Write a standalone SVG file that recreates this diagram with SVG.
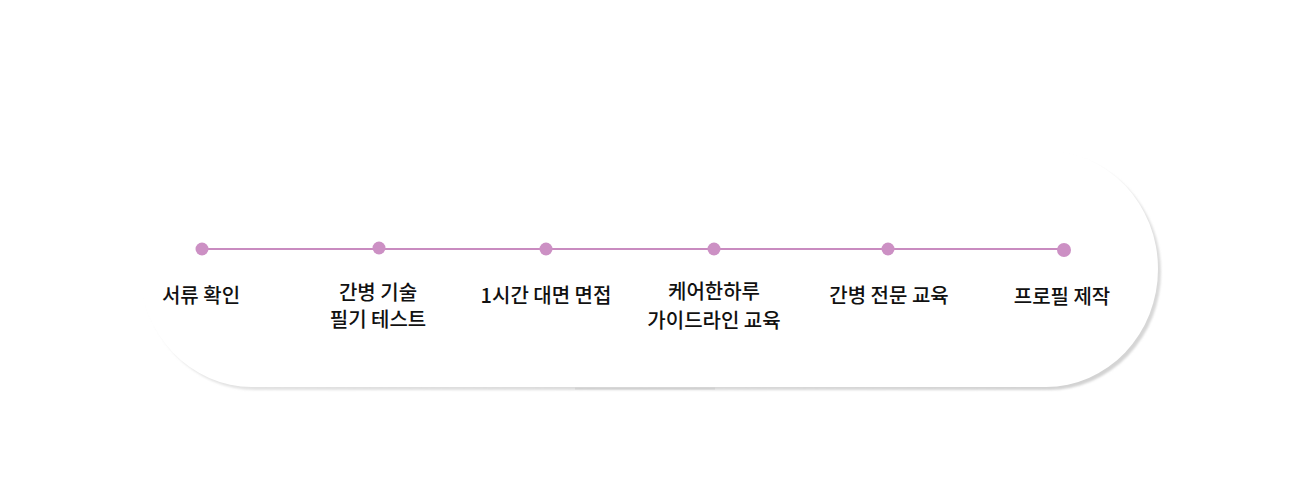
<svg xmlns="http://www.w3.org/2000/svg" width="1290" height="500" viewBox="0 0 1290 500">
  <defs>
    <linearGradient id="shadowGrad" x1="0" y1="0" x2="1" y2="1">
      <stop offset="0" stop-color="#d0d0d0" stop-opacity="0"/>
      <stop offset="0.35" stop-color="#d4d4d4" stop-opacity="0.5"/>
      <stop offset="1" stop-color="#d0d0d0" stop-opacity="1"/>
    </linearGradient>
    <filter id="blur" x="-5%" y="-10%" width="110%" height="120%">
      <feGaussianBlur stdDeviation="1.2"/>
    </filter>
    <style>
      .label { font-family: "Noto Sans CJK KR", "Noto Sans", sans-serif; font-size: 20px; font-weight: 500; fill: #111111; text-anchor: middle; }
      .dot { fill: #cc90c4; }
      .conn { stroke: #c98bc0; stroke-width: 2; fill: none; }
    </style>
  </defs>
  <rect x="0" y="0" width="1290" height="500" fill="#ffffff"/>
  <g id="background">
    <rect x="143" y="154" width="1018" height="236" rx="112" ry="118" fill="url(#shadowGrad)" filter="url(#blur)"/>
    <rect x="140" y="151" width="1018" height="236" rx="112" ry="118" fill="#ffffff"/>
    <line x1="575" y1="388.5" x2="715" y2="388.5" stroke="#cfcfcf" stroke-width="2" opacity="0.8"/>
  </g>
  <g id="connectors">
    <line class="conn" x1="202" y1="249" x2="1064" y2="249"/>
  </g>
  <g id="node1">
    <circle class="dot" cx="202" cy="249" r="6.5"/>
    <text class="label" x="201" y="303">서류 확인</text>
  </g>
  <g id="node2">
    <circle class="dot" cx="379" cy="248" r="6.5"/>
    <text class="label" x="378" y="300">간병 기술</text>
    <text class="label" x="378" y="327">필기 테스트</text>
  </g>
  <g id="node3">
    <circle class="dot" cx="546" cy="249" r="6.5"/>
    <text class="label" x="546" y="303">1시간 대면 면접</text>
  </g>
  <g id="node4">
    <circle class="dot" cx="714" cy="249" r="6.5"/>
    <text class="label" x="714" y="299">케어한하루</text>
    <text class="label" x="714" y="328">가이드라인 교육</text>
  </g>
  <g id="node5">
    <circle class="dot" cx="888" cy="249" r="6.5"/>
    <text class="label" x="889" y="303">간병 전문 교육</text>
  </g>
  <g id="node6">
    <circle class="dot" cx="1064" cy="250" r="7"/>
    <text class="label" x="1062" y="304">프로필 제작</text>
  </g>
</svg>
